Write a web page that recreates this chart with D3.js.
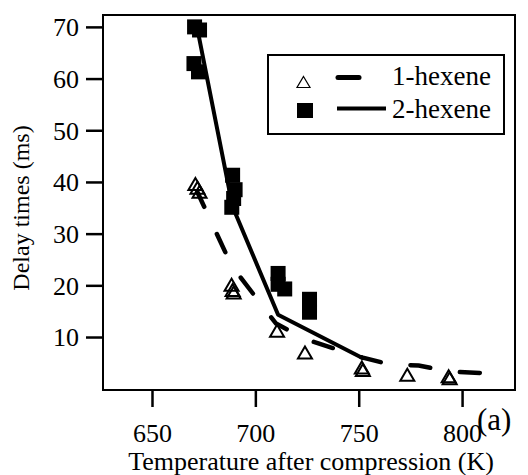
<!DOCTYPE html>
<html><head><meta charset="utf-8">
<script src="https://cdn.jsdelivr.net/npm/d3@7"></script>
<style>
html,body{margin:0;padding:0;background:#fff;}
svg{display:block;}
svg text{font-family:"Liberation Serif","Times New Roman",serif !important;fill:#000;}
</style></head>
<body>
<svg id="chart" width="528" height="475"></svg>
<script>
// ---- data ----
const xTicks = [650, 700, 750, 800];
const yTicks = [10, 20, 30, 40, 50, 60, 70];
const seriesNames = ["1-hexene", "2-hexene"];

// 1-hexene measured delay times (open triangles)
const hex1T = [671, 672, 673, 688.5, 689, 689.5, 710.5, 724, 751.5, 752, 773.5, 793.5, 794];
const hex1V = [39.6, 38.9, 38.1, 20.1, 19.1, 18.6, 11.2, 7.0, 4.1, 3.6, 2.7, 2.4, 2.0];
// 1-hexene fitted curve (dashed)
const fit1T = [672, 688.5, 710, 724, 752, 765, 779, 794, 818];
const fit1V = [38.0, 23.8, 12.6, 9.6, 6.0, 4.7, 4.5, 3.3, 2.9];

// 2-hexene measured delay times (filled squares)
const hex2T = [670.6, 673.0, 670.3, 672.5, 689.0, 690.2, 689.5, 688.6, 711.0, 711.0, 714.2, 726.2, 726.2, 726.2];
const hex2V = [70.0, 69.4, 62.9, 61.3, 41.3, 38.5, 36.8, 35.1, 22.3, 20.2, 19.3, 17.3, 16.1, 14.8];
// 2-hexene fitted curve (solid)
const fit2T = [672, 689, 711, 752.5];
const fit2V = [69.5, 35.2, 14.3, 5.8];

// ---- drawing ----
const svg = d3.select("#chart");
const L = 103, R = 515, T = 15, B = 390;
const x = d3.scaleLinear().domain([626.3, 825.6]).range([L, R]);
const y = d3.scaleLinear().domain([-0.25, 72.3]).range([B, T]);
const FONT = "'Liberation Serif', 'Times New Roman', serif";

// fitted lines
const line = d3.line().x(d => x(d[0])).y(d => y(d[1]));
svg.append("path").datum(fit2T.map((t, i) => [t, fit2V[i]]))
  .attr("d", line).attr("fill", "none").attr("stroke", "#000")
  .attr("stroke-width", 4).attr("stroke-linejoin", "round");
svg.append("path").datum(fit1T.map((t, i) => [t, fit1V[i]]))
  .attr("d", line).attr("fill", "none").attr("stroke", "#000")
  .attr("stroke-width", 4.5).attr("stroke-linecap", "round")
  .attr("stroke-dasharray", "20,30").attr("stroke-dashoffset", 4);

// squares
const sq = 15;
svg.append("g").selectAll("rect").data(hex2T.map((t, i) => [t, hex2V[i]])).join("rect")
  .attr("x", d => x(d[0]) - sq / 2).attr("y", d => y(d[1]) - sq / 2)
  .attr("width", sq).attr("height", sq).attr("fill", "#000");

// triangles
const tri = (cx, cy, w, h) => `M${cx},${cy - h / 2}L${cx + w / 2},${cy + h / 2}L${cx - w / 2},${cy + h / 2}Z`;
svg.append("g").selectAll("path").data(hex1T.map((t, i) => [t, hex1V[i]])).join("path")
  .attr("d", d => tri(x(d[0]), y(d[1]), 14, 12))
  .attr("fill", "none").attr("stroke", "#000").attr("stroke-width", 2);

// frame
svg.append("rect").attr("x", L).attr("y", T).attr("width", R - L).attr("height", B - T)
  .attr("fill", "none").attr("stroke", "#000").attr("stroke-width", 2);

// axes
const yAxis = svg.append("g").attr("transform", `translate(${L},0)`)
  .call(d3.axisLeft(y).tickValues(yTicks).tickSize(17).tickFormat(d3.format("d")))
  .attr("font-family", FONT).attr("font-size", 26);
yAxis.select(".domain").remove();
yAxis.selectAll("line").attr("stroke", "#000").attr("stroke-width", 2.5);
yAxis.selectAll("text").attr("x", -24).attr("dy", "0.34em").attr("fill", "#000");

const xAxis = svg.append("g").attr("transform", `translate(0,${B})`)
  .call(d3.axisBottom(x).tickValues(xTicks).tickSize(17).tickFormat(d3.format("d")))
  .attr("font-family", FONT).attr("font-size", 26);
xAxis.select(".domain").remove();
xAxis.selectAll("line").attr("stroke", "#000").attr("stroke-width", 2.5);
xAxis.selectAll("text").attr("y", 52).attr("dy", 0).attr("fill", "#000");

// axis titles
svg.append("text").attr("x", 311).attr("y", 470).attr("text-anchor", "middle")
  .attr("font-size", 26).text("Temperature after compression (K)");
svg.append("text").attr("transform", "translate(29,208) rotate(-90)")
  .attr("text-anchor", "middle").attr("font-size", 24).text("Delay times (ms)");
svg.append("text").attr("x", 477).attr("y", 430).attr("font-size", 31).text("(a)");

// legend
const lg = svg.append("g");
lg.append("rect").attr("x", 268).attr("y", 55).attr("width", 236).attr("height", 79)
  .attr("fill", "#fff").attr("stroke", "#000").attr("stroke-width", 2);
lg.append("path").attr("d", tri(303.5, 82, 13, 11)).attr("fill", "none")
  .attr("stroke", "#000").attr("stroke-width", 1.2);
lg.append("line").attr("x1", 338).attr("x2", 359).attr("y1", 77.5).attr("y2", 77.5)
  .attr("stroke", "#000").attr("stroke-width", 5).attr("stroke-linecap", "round");
lg.append("rect").attr("x", 297).attr("y", 103).attr("width", 16).attr("height", 15).attr("fill", "#000");
lg.append("line").attr("x1", 337).attr("x2", 386).attr("y1", 108.5).attr("y2", 108.5)
  .attr("stroke", "#000").attr("stroke-width", 4);
lg.selectAll("text.lab").data(seriesNames).join("text").attr("class", "lab")
  .attr("x", 392).attr("y", (d, i) => 85 + i * 33).attr("font-size", 27).text(d => d);
</script>
</body></html>
